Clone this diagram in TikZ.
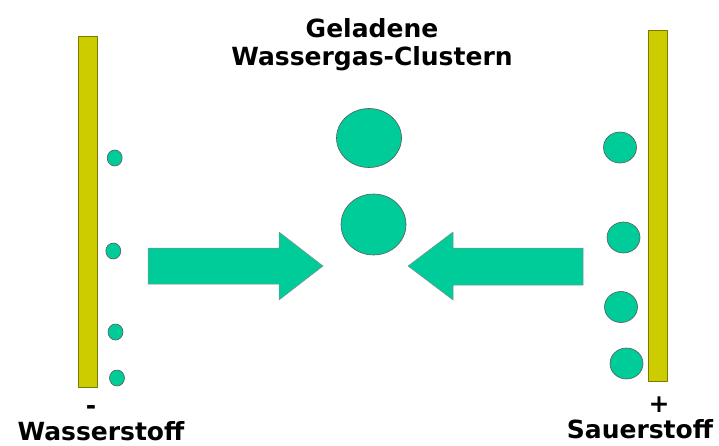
\documentclass[tikz,border=0pt]{standalone}
\usepackage{fontspec}
\setmainfont{DejaVu Sans}
\usepackage{xcolor}
\usetikzlibrary{positioning,shapes.geometric}
\definecolor{gruen}{HTML}{00CC99}
\definecolor{gelb}{HTML}{CCCC00}
\definecolor{oliv}{HTML}{7A7A00}
\tikzset{
  platte/.style={draw=oliv, fill=gelb, line width=0.8pt},
  teilchen/.style={ellipse, draw=black!65, fill=gruen, line width=0.6pt, inner sep=0pt},
  pfeil/.style={draw=black!45, fill=gruen, line width=0.5pt},
  schrift/.style={font=\bfseries\fontsize{25}{29}\selectfont, inner sep=0pt, anchor=base},
  every picture/.style={line cap=round, line join=round}
}

\begin{document}
\begin{tikzpicture}[x=1pt, y=-1pt]
  \useasboundingbox (0,0) rectangle (719,445);

  % Titel
  \node[schrift] (titel1) at (372,37) {Geladene};
  \node[schrift] (titel2) at (372,65) {Wassergas-Clustern};

  % Elektroden
  \node[platte, minimum width=19pt, minimum height=351pt] (kathode) at (87.5,211.5) {};
  \node[platte, minimum width=19pt, minimum height=351pt] (anode) at (657.5,205.5) {};

  \node[schrift] (minus) at (91,414) {-};
  \node[schrift] (plus) at (659,412) {+};
  \node[schrift] (wasserstoff) at (101,440) {Wasserstoff};
  \node[schrift] (sauerstoff) at (640,438) {Sauerstoff};

  % Wasserstoff-Teilchen
  \foreach \x/\y [count=\i] in {114.7/158, 113.3/251, 115.5/332, 117/378}
    \node[teilchen, minimum width=15pt, minimum height=16pt] (h\i) at (\x,\y) {};

  % Sauerstoff-Teilchen
  \foreach \x/\y [count=\i] in {620/147.5, 623.5/237.5, 621/307, 626.5/363.5}
    \node[teilchen, minimum width=33pt, minimum height=31pt] (o\i) at (\x,\y) {};

  % Cluster
  \node[teilchen, minimum width=65pt, minimum height=59pt] (c1) at (369,138) {};
  \node[teilchen, minimum width=65pt, minimum height=61pt] (c2) at (373.5,224.5) {};

  % Pfeile
  \draw[pfeil] (148,248) -- (279,248) -- (279,232) -- (323,266) -- (279,300)
    -- (279,284) -- (148,284) -- cycle;
  \draw[pfeil] (583,248) -- (453,248) -- (453,232) -- (408,266) -- (453,300)
    -- (453,285) -- (583,285) -- cycle;
\end{tikzpicture}
\end{document}
